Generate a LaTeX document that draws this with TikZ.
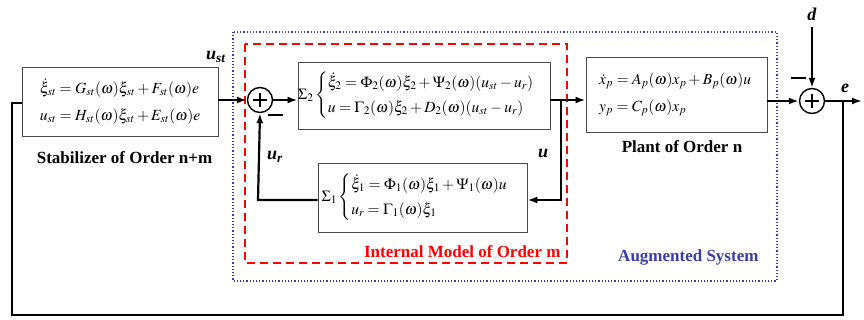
\documentclass[tikz,border=0pt]{standalone}
\usepackage{amsmath}
\usepackage{mathptmx}
\usepackage[no-math]{fontspec}
\setmainfont{Liberation Serif}
\usetikzlibrary{arrows.meta,calc}
\newcommand{\bi}[1]{\textbf{\textit{#1}}}
\definecolor{augblue}{RGB}{60,60,165}
\begin{document}
\begin{tikzpicture}[x=1pt,y=-1pt,
  blk/.style={draw=black!70,line width=0.8pt,fill=white,inner sep=0pt},
  sig/.style={line width=2.2pt,-{Latex[length=10pt,width=7pt]}},
  wire/.style={line width=2.2pt},
  sumc/.style={draw,circle,line width=1.4pt,minimum size=25pt,inner sep=0pt},
  lbl/.style={font=\fontsize{17}{19}\selectfont\bfseries},
  sgl/.style={font=\fontsize{18}{19}\selectfont},
  eqn/.style={font=\fontsize{15.5}{18}\selectfont}]
\useasboundingbox (0,0) rectangle (864,320);
% frames
\draw[augblue,line width=1.2pt,dotted] (233,32) rectangle (777,281);
\draw[red,line width=1.6pt,dash pattern=on 8pt off 5pt] (245,44) rectangle (567,263);
% blocks
\node[blk,minimum width=196pt,minimum height=69pt] (stab) at (120,102) {};
\node[eqn] at (stab.center) {$\begin{aligned}\dot\xi_{st}&=G_{st}(\omega)\xi_{st}+F_{st}(\omega)e\\[6pt] u_{st}&=H_{st}(\omega)\xi_{st}+E_{st}(\omega)e\end{aligned}$};
\node[blk,minimum width=252pt,minimum height=67pt] (s2) at (424,95.5) {};
\node[eqn] at (s2.center) {$\Sigma_2\begin{cases}\dot\xi_2=\Phi_2(\omega)\xi_2+\Psi_2(\omega)(u_{st}-u_r)\\[3pt] u=\Gamma_2(\omega)\xi_2+D_2(\omega)(u_{st}-u_r)\end{cases}$};
\node[blk,minimum width=209pt,minimum height=69pt] (s1) at (422.5,197.5) {};
\node[eqn] at (s1.center) {$\Sigma_1\begin{cases}\dot\xi_1=\Phi_1(\omega)\xi_1+\Psi_1(\omega)u\\[3pt] u_r=\Gamma_1(\omega)\xi_1\end{cases}$};
\node[blk,minimum width=181pt,minimum height=75pt] (plant) at (676.5,94.5) {};
\node[eqn,anchor=west] at ([xshift=10pt]plant.west) {$\begin{aligned}\dot x_p&=A_p(\omega)x_p+B_p(\omega)u\\[6pt] y_p&=C_p(\omega)x_p\end{aligned}$};
% sums
\node[sumc] (sum1) at (260,100) {};
\node[sumc] (sum2) at (812,101) {};
\foreach \s in {sum1,sum2}{
  \draw[line width=1.4pt] ([xshift=-7pt]\s.center) -- ([xshift=7pt]\s.center);
  \draw[line width=1.4pt] ([yshift=-7pt]\s.center) -- ([yshift=7pt]\s.center);}
\draw[wire] ([shift={(8,15)}]sum1.center) -- ++(15,0);
\draw[wire] ([shift={(-21,-23)}]sum2.center) -- ++(15,0);
% coordinates
\coordinate (ej) at (843,101);
\coordinate (eout) at (862,101);
\coordinate (dtop) at (812,27);
\coordinate (ub) at (561,100);
\coordinate (fbl) at (12,315);
\coordinate (fbr) at (843,315);
\coordinate (urc) at (258,200);
% connectors
\draw[sig] (stab.east |- sum1.west) -- (sum1.west);
\draw[sig] (sum1.east) -- (sum1.east -| s2.west);
\draw[sig] (ub -| s2.east) -- (ub -| plant.west);
\draw[sig] (ub) -- (ub |- 0,200) -- (s1.east |- 0,200);
\draw[sig] (s1.west |- urc) -- (urc) -- (sum1.south);
\draw[sig] (plant.east |- sum2.west) -- (sum2.west);
\draw[sig] (dtop) -- (sum2.north);
\draw[sig] (sum2.east) -- (eout);
\draw[wire] (ej) -- (fbr) -- (fbl) -- (fbl |- 0,103) -- (stab.west |- 0,103);
% labels
\node[lbl] at (124.5,158) {Stabilizer of Order n+m};
\node[lbl] at (682,147) {Plant of Order n};
\node[lbl,text=red,anchor=east] at (564,252) {Internal Model of Order m};
\node[lbl,text=augblue,anchor=east] at (762,257) {Augmented System};
\node[sgl] at (216,57) {$\bi{u}_{\bi{st}}$};
\node[sgl] at (275,157) {$\bi{u}_{\bi{r}}$};
\node[sgl] at (543,153) {$\bi{u}$};
\node[sgl] at (812,14) {$\bi{d}$};
\node[sgl] at (845,88) {$\bi{e}$};
\end{tikzpicture}
\end{document}
